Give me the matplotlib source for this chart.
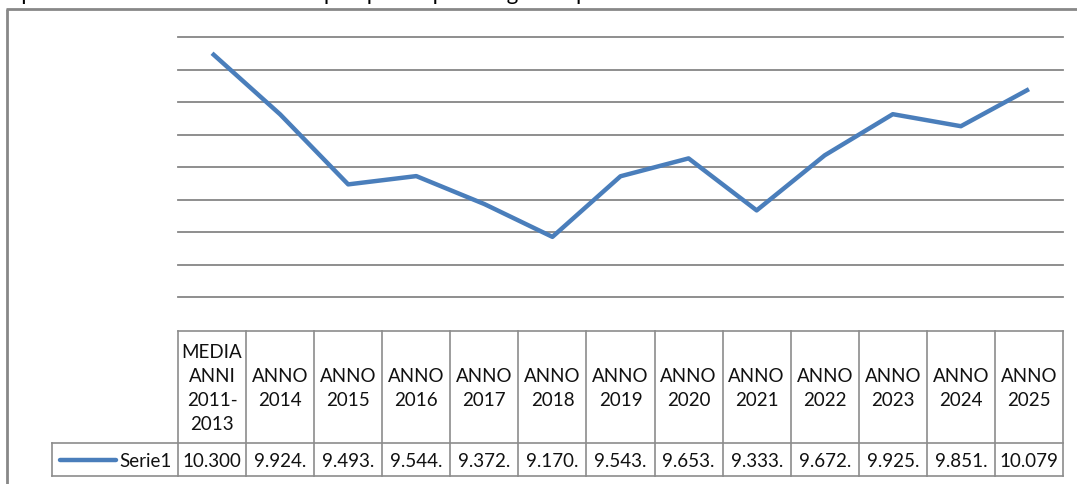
import matplotlib
matplotlib.use("Agg")
import matplotlib.pyplot as plt

# ---- data ----
categories = ["MEDIA\nANNI\n2011-\n2013", "ANNO\n2014", "ANNO\n2015", "ANNO\n2016",
              "ANNO\n2017", "ANNO\n2018", "ANNO\n2019", "ANNO\n2020", "ANNO\n2021",
              "ANNO\n2022", "ANNO\n2023", "ANNO\n2024", "ANNO\n2025"]
values = [10.300, 9.924, 9.493, 9.544, 9.372, 9.170, 9.543, 9.653, 9.333,
          9.672, 9.925, 9.851, 10.079]
value_labels = ["10.300", "9.924.", "9.493.", "9.544.", "9.372.", "9.170.", "9.543.",
                "9.653.", "9.333.", "9.672.", "9.925.", "9.851.", "10.079"]
series_name = "Serie1"
y_min, y_max, y_step = 8.8, 10.4, 0.2

W, H = 1077, 485
FONT = ["Lato", "DejaVu Sans"]
LINE_C = "#4A7EBB"
GRID_C = "#868686"
BORDER_C = "#8C8C8C"
FS = 13.5

fig = plt.figure(figsize=(W / 100, H / 100), dpi=100)
fig.patch.set_facecolor("white")

def px(x0, y0, x1, y1):
    return [x0 / W, 1 - y1 / H, (x1 - x0) / W, (y1 - y0) / H]

# background overlay (pixel coordinates)
ax0 = fig.add_axes([0, 0, 1, 1])
ax0.set_xlim(0, W)
ax0.set_ylim(H, 0)
ax0.axis("off")
# outer chart frame (cut off at right and bottom)
ax0.plot([7, 7], [10, H + 5], color="#888888", lw=2.0, solid_capstyle="butt")
ax0.plot([6, W + 5], [10, 10], color="#888888", lw=2.0, solid_capstyle="butt")
# cut-off caption line at the very top (as in the reference)
ax0.text(-2, 0.5, "rispetto all'andamento medio del prospetto qui di seguito riportato",
         fontsize=16, family=FONT, color="black", va="baseline", ha="left")

# plot area
ax = fig.add_axes(px(178, 38, 1063, 298))
n = len(values)
xs = list(range(n))
ax.set_xlim(-0.5, n - 0.5)
ax.set_ylim(y_min, y_max)
ax.axis("off")
k = 0
while y_min + k * y_step <= y_max + 1e-9:
    yv = y_min + k * y_step
    ax.axhline(yv, color=GRID_C, lw=1.3, clip_on=False, zorder=1)
    k += 1
ax.plot(xs, values, color=LINE_C, lw=3.2, solid_joinstyle="round",
        solid_capstyle="butt", zorder=3, clip_on=False)

# data table
tab_top, hdr_bot, tab_bot = 332, 444, 477
axt = fig.add_axes(px(178, tab_top, 1063, tab_bot))
axt.set_xlim(-0.5, n - 0.5)
axt.set_ylim(tab_bot - tab_top, 0)
axt.axis("off")
col_w = 885 / n
leg_left = -0.5 - (178 - 52) / col_w
hb = hdr_bot - tab_top
tb = tab_bot - tab_top
lk = dict(color=BORDER_C, lw=1.2, clip_on=False, solid_capstyle="projecting")
axt.plot([-0.5, n - 0.5], [0, 0], **lk)
axt.plot([leg_left, n - 0.5], [hb, hb], **lk)
axt.plot([leg_left, n - 0.5], [tb, tb], **lk)
axt.plot([leg_left, leg_left], [hb, tb], **lk)
for i in range(n + 1):
    axt.plot([i - 0.5, i - 0.5], [0, tb], **lk)

for i, (c, v) in enumerate(zip(categories, value_labels)):
    axt.text(i, hb / 2 + 0.5, c, ha="center", va="center", fontsize=FS,
             family=FONT, linespacing=1.48, color="#111111")
    axt.text(i, (hb + tb) / 2 + 1, v, ha="center", va="center", fontsize=FS,
             family=FONT, color="#111111")

# legend key in table
ly = (hb + tb) / 2
x_l0 = leg_left + (60 - 52) / col_w
x_l1 = leg_left + (116 - 52) / col_w
axt.plot([x_l0, x_l1], [ly, ly], color=LINE_C, lw=3.2, clip_on=False,
         solid_capstyle="round")
axt.text(-0.5 - 6 / col_w, ly + 1, series_name, ha="right", va="center",
         fontsize=FS, family=FONT, color="#111111")

fig.savefig("out.png", dpi=100)
